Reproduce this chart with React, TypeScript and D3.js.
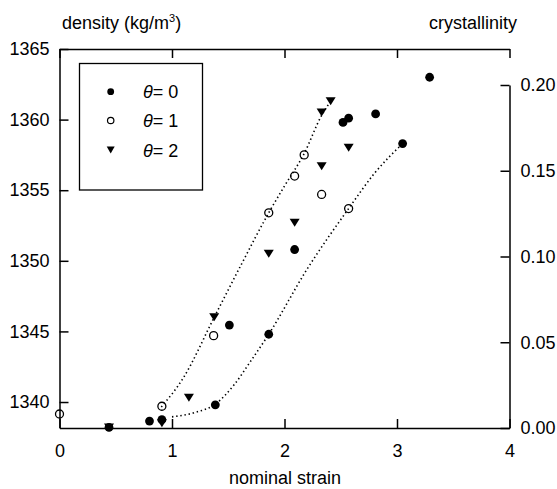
import React, { useEffect, useRef } from "react";
import * as d3 from "d3";

// ---- axis ticks ----
const strainTicks = [0, 1, 2, 3, 4];
const densityTicks = [1340, 1345, 1350, 1355, 1360, 1365];
const crystTicks = [0, 0.05, 0.1, 0.15, 0.2];

// ---- data: theta = 0 (filled circles) ----
const theta0Strain = [0.44, 0.8, 0.91, 1.385, 1.51, 1.86, 2.09, 2.52, 2.57, 2.81, 3.05, 3.29];
const theta0Density = [1338.2, 1338.65, 1338.75, 1339.8, 1345.45, 1344.8, 1350.8, 1359.8, 1360.1, 1360.4, 1358.3, 1363.0];

// ---- data: theta = 1 (open circles) ----
const theta1Strain = [0, 0.91, 1.37, 1.86, 2.09, 2.175, 2.33, 2.57];
const theta1Density = [1339.15, 1339.7, 1344.7, 1353.4, 1356.0, 1357.5, 1354.7, 1353.7];

// ---- data: theta = 2 (down triangles) ----
const theta2Strain = [0.44, 0.91, 1.15, 1.375, 1.86, 2.09, 2.33, 2.57, 2.33, 2.41];
const theta2Density = [1338.2, 1338.5, 1340.3, 1346.0, 1350.5, 1352.7, 1356.7, 1358.0, 1360.5, 1361.3];

// ---- dotted guide curves ----
const fitAStrain = [0.905, 1.1, 1.375, 1.62, 1.86, 2.0, 2.175, 2.33, 2.41];
const fitADensity = [1339.65, 1341.7, 1346.0, 1349.8, 1353.4, 1355.3, 1357.6, 1360.3, 1361.3];
const fitBStrain = [1.0, 1.2, 1.385, 1.55, 1.7, 1.86, 2.2, 2.57, 2.8, 3.05];
const fitBDensity = [1338.95, 1339.25, 1339.85, 1341.2, 1342.9, 1344.8, 1349.4, 1353.7, 1356.2, 1358.3];

const legendLabels = ["0", "1", "2"];
const FONT = "'Liberation Sans', Arial, Helvetica, sans-serif";

export default function App() {
  const ref = useRef<SVGSVGElement>(null);

  useEffect(() => {
    const svg = d3.select(ref.current);
    svg.selectAll("*").remove();

    const x = d3.scaleLinear().domain([0, 4]).range([59.5, 509.5]);
    const y = d3.scaleLinear().domain([1338.16, 1365]).range([428, 49]);
    const yc = d3.scaleLinear().domain([0, 0.2]).range([428, 85]);

    const styleAxis = (g: any) => {
      g.attr("font-family", FONT).attr("font-size", 18);
      g.selectAll("path.domain").attr("stroke", "#000").attr("stroke-width", 1.5);
      g.selectAll(".tick line").attr("stroke", "#000").attr("stroke-width", 1.5);
      g.selectAll(".tick text").attr("fill", "#000");
    };

    svg.append("g").attr("transform", "translate(0,428)")
      .call(d3.axisBottom(x).tickValues(strainTicks).tickSize(-9).tickSizeOuter(0).tickPadding(16).tickFormat(d3.format("d")) as any)
      .call(styleAxis);
    svg.append("g").attr("transform", "translate(0,49)")
      .call(d3.axisTop(x).tickValues(strainTicks).tickSize(-9).tickSizeOuter(0).tickFormat(() => "") as any)
      .call(styleAxis);
    svg.append("g").attr("transform", "translate(59.5,0)")
      .call(d3.axisLeft(y).tickValues(densityTicks).tickSize(-9).tickSizeOuter(0).tickPadding(10).tickFormat(d3.format("d")) as any)
      .call(styleAxis);
    svg.append("g").attr("transform", "translate(509.5,0)")
      .call(d3.axisRight(yc).tickValues(crystTicks).tickSize(-9).tickSizeOuter(0).tickPadding(11).tickFormat(d3.format(".2f")) as any)
      .call(styleAxis);

    // titles
    const t1 = svg.append("text").attr("x", 62).attr("y", 29).attr("font-family", FONT).attr("font-size", 18).attr("fill", "#000");
    t1.append("tspan").text("density (kg/m");
    t1.append("tspan").attr("font-size", 11).attr("dy", -7).text("3");
    t1.append("tspan").attr("dy", 7).text(")");
    svg.append("text").attr("x", 517).attr("y", 29).attr("text-anchor", "end").attr("font-family", FONT).attr("font-size", 18).attr("fill", "#000").text("crystallinity");
    svg.append("text").attr("x", 285).attr("y", 484).attr("text-anchor", "middle").attr("font-family", FONT).attr("font-size", 18).attr("fill", "#000").text("nominal strain");

    // dotted curves
    const line = d3.line<[number, number]>().x(d => x(d[0])).y(d => y(d[1])).curve(d3.curveMonotoneX);
    const curves = [
      fitAStrain.map((s, i) => [s, fitADensity[i]] as [number, number]),
      fitBStrain.map((s, i) => [s, fitBDensity[i]] as [number, number]),
    ];
    curves.forEach(c => {
      svg.append("path").attr("d", line(c)).attr("fill", "none").attr("stroke", "#000")
        .attr("stroke-width", 1.6).attr("stroke-dasharray", "1.4 2.8");
    });

    const tri = (cx: number, cy: number, w: number, h: number) =>
      `M${cx - w / 2},${cy - h / 2}L${cx + w / 2},${cy - h / 2}L${cx},${cy + h / 2}Z`;

    // theta 1 open circles
    theta1Strain.forEach((s, i) => {
      svg.append("circle").attr("cx", x(s)).attr("cy", y(theta1Density[i])).attr("r", 4)
        .attr("fill", "none").attr("stroke", "#000").attr("stroke-width", 1.3);
    });
    // theta 0 filled circles
    theta0Strain.forEach((s, i) => {
      svg.append("circle").attr("cx", x(s)).attr("cy", y(theta0Density[i])).attr("r", 4.4).attr("fill", "#000");
    });
    // theta 2 triangles
    theta2Strain.forEach((s, i) => {
      svg.append("path").attr("d", tri(x(s), y(theta2Density[i]), 10, 8)).attr("fill", "#000");
    });

    // legend
    svg.append("rect").attr("x", 79.5).attr("y", 63.5).attr("width", 123).attr("height", 126.5)
      .attr("fill", "#fff").attr("stroke", "#000").attr("stroke-width", 1.3);
    const ly = [91.7, 120.5, 150];
    svg.append("circle").attr("cx", 110.7).attr("cy", ly[0]).attr("r", 3.4).attr("fill", "#000");
    svg.append("circle").attr("cx", 110.7).attr("cy", ly[1]).attr("r", 3.2).attr("fill", "none").attr("stroke", "#000").attr("stroke-width", 1.2);
    svg.append("path").attr("d", tri(110.7, ly[2], 8, 7)).attr("fill", "#000");
    legendLabels.forEach((lab, i) => {
      const t = svg.append("text").attr("x", 143).attr("y", ly[i] + 6.5).attr("font-family", FONT).attr("font-size", 18).attr("fill", "#000");
      t.append("tspan").attr("font-style", "italic").text("\u03b8");
      t.append("tspan").text("= " + lab);
    });
  }, []);

  return (
    <svg ref={ref} width={557} height={489}
      style={{ position: "absolute", left: 0, top: 0, background: "#fff" }} />
  );
}
